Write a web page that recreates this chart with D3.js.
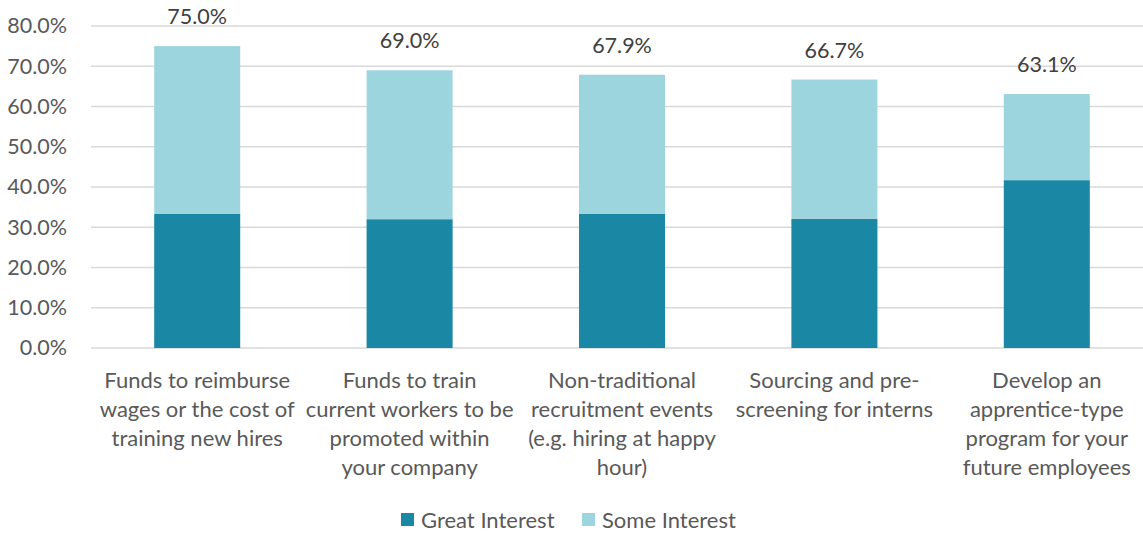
<!DOCTYPE html>
<html>
<head>
<meta charset="utf-8">
<script src="https://cdn.jsdelivr.net/npm/d3@7"></script>
<style>
  body { margin: 0; background: #fff; }
  svg text { font-family: Lato, "Open Sans", sans-serif; }
</style>
</head>
<body>
<svg id="graph"></svg>
<script>
// Chart data
const categories = [
    [ "Funds to reimburse", "wages or the cost of", "training new hires" ],
    [ "Funds to train", "current workers to be", "promoted within", "your company" ],
    [ "Non-traditional", "recruitment events", "(e.g. hiring at happy", "hour)" ],
    [ "Sourcing and pre-", "screening for interns" ],
    [ "Develop an", "apprentice-type", "program for your", "future employees" ]
];
const greatInterest = [ 33.3, 32.0, 33.3, 32.1, 41.7 ];
const someInterest = [ 41.7, 37.0, 34.6, 34.6, 21.4 ];
const totals = [ 75.0, 69.0, 67.9, 66.7, 63.1 ];
const seriesNames = [ "Great Interest", "Some Interest" ];
const yTicks = [ 0, 10, 20, 30, 40, 50, 60, 70, 80 ];

var svgWidth = 1143,
    svgHeight = 533,
    plot = { left: 91, right: 1153, top: 26, bottom: 348 },
    colours = [ '#1a87a5', '#9dd5df' ];

const svg = d3.select( "svg#graph" )
    .attr( "width", svgWidth )
    .attr( "height", svgHeight );

const rows = categories.map( ( c, i ) => ( {
    index: i,
    great: greatInterest[ i ],
    some: someInterest[ i ],
    total: totals[ i ]
} ) );

const x = d3.scaleBand()
    .domain( d3.range( categories.length ) )
    .range( [ plot.left, plot.right ] )
    .paddingInner( 0.595 )
    .paddingOuter( 0.2975 );

const y = d3.scaleLinear()
    .domain( [ 0, 80 ] )
    .range( [ plot.bottom, plot.top ] );

// gridlines
svg.append( "g" )
    .selectAll( "line" )
    .data( yTicks )
    .enter()
    .append( "line" )
    .attr( "x1", plot.left )
    .attr( "x2", svgWidth )
    .attr( "y1", d => y( d ) )
    .attr( "y2", d => y( d ) )
    .style( "stroke", "#d9d9d9" )
    .style( "stroke-width", 1.5 );

// y axis labels
const yAxis = svg.append( "g" )
    .attr( "transform", "translate(" + [ 67, 0 ] + ")" )
    .call( d3.axisLeft( y ).tickValues( yTicks ).tickSize( 0 ).tickPadding( 0 )
        .tickFormat( d => d.toFixed( 1 ) + "%" ) );
yAxis.select( ".domain" ).remove();
yAxis.selectAll( "text" )
    .style( "font-size", "21.5px" )
    .style( "fill", "#595959" );

// stacked bars
const stack = d3.stack().keys( [ "great", "some" ] )( rows );

svg.append( "g" )
    .selectAll( "g" )
    .data( stack )
    .enter()
    .append( "g" )
    .style( "fill", ( d, i ) => colours[ i ] )
    .selectAll( "rect" )
    .data( d => d )
    .enter()
    .append( "rect" )
    .attr( "x", d => x( d.data.index ) )
    .attr( "width", x.bandwidth() )
    .attr( "y", d => y( d[ 1 ] ) )
    .attr( "height", d => y( d[ 0 ] ) - y( d[ 1 ] ) );

// total labels
svg.append( "g" )
    .selectAll( "text" )
    .data( rows )
    .enter()
    .append( "text" )
    .attr( "x", d => x( d.index ) + x.bandwidth() / 2 )
    .attr( "y", d => y( d.total ) - 22 )
    .attr( "text-anchor", "middle" )
    .style( "font-size", "21.5px" )
    .style( "fill", "#404040" )
    .text( d => d.total.toFixed( 1 ) + "%" );

// category labels
const catLabels = svg.append( "g" )
    .selectAll( "text" )
    .data( categories )
    .enter()
    .append( "text" )
    .attr( "text-anchor", "middle" )
    .attr( "transform", ( d, i ) => "translate(" + [ x( i ) + x.bandwidth() / 2, 388 ] + ")" )
    .style( "font-size", "22px" )
    .style( "fill", "#595959" );

catLabels.selectAll( "tspan" )
    .data( d => d )
    .enter()
    .append( "tspan" )
    .attr( "x", 0 )
    .attr( "y", ( d, i ) => i * 29 )
    .text( d => d );

// legend
const legendItems = [ { x: 401, text: seriesNames[ 0 ] }, { x: 582, text: seriesNames[ 1 ] } ];
const legend = svg.append( "g" )
    .selectAll( "g" )
    .data( legendItems )
    .enter()
    .append( "g" )
    .attr( "transform", d => "translate(" + [ d.x, 520 ] + ")" );

legend.append( "rect" )
    .attr( "y", -7 )
    .attr( "width", 13 )
    .attr( "height", 13 )
    .style( "fill", ( d, i ) => colours[ i ] );

legend.append( "text" )
    .attr( "x", 20 )
    .attr( "y", 8 )
    .style( "font-size", "22px" )
    .style( "fill", "#595959" )
    .text( d => d.text );
</script>
</body>
</html>
